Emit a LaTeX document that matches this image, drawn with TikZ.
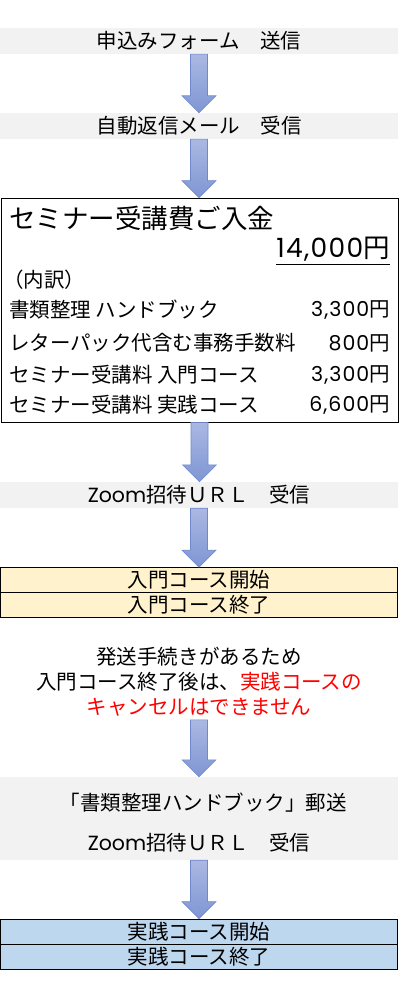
\documentclass[tikz,border=0pt]{standalone}
\usepackage{fontspec}
\setmainfont{Noto Sans CJK JP}
\newfontfamily\latinfont{Poppins}
\newfontfamily\amountfont{Poppins}[LetterSpace=5]
\usepackage{xcolor}
\usetikzlibrary{calc}
\definecolor{bandgray}{HTML}{F2F2F2}
\definecolor{introyellow}{HTML}{FFF2CC}
\definecolor{practiceblue}{HTML}{BDD7EE}
\definecolor{arrowtop}{HTML}{AAB8E2}
\definecolor{arrowbottom}{HTML}{7F96D4}
\definecolor{arrowline}{HTML}{6F89CF}
\definecolor{warnred}{HTML}{FF0000}
\newcommand{\yen}[1]{{\amountfont #1}円}
\tikzset{
  band/.style={fill=bandgray, minimum width=398pt, minimum height=26pt, inner sep=0pt, font=\fontsize{20.5}{25}\selectfont},
  coursebox/.style={draw=black, line width=0.8pt, minimum width=397pt, minimum height=25pt, inner sep=0pt, font=\fontsize{20.5}{25}\selectfont},
  item/.style={inner sep=0pt, font=\fontsize{20.5}{25}\selectfont},
  arrowbody/.style={top color=arrowtop, bottom color=arrowbottom, draw=arrowline, line width=0.6pt}
}
% block arrow from #1 down to #2
\newcommand{\flowarrow}[2]{%
\path[arrowbody] let \p1=(#1), \p2=(#2) in
  (\x1-8.5,\y1) -- (\x1+8.5,\y1) -- (\x1+8.5,\y2+17) -- (\x1+17,\y2+17)
  -- (\x1,\y2) -- (\x1-17,\y2+17) -- (\x1-8.5,\y2+17) -- cycle;}

\begin{document}
\begin{tikzpicture}[x=1pt,y=-1pt]
\useasboundingbox (0,0) rectangle (412,995);

\node[band] (form) at (199,41) {申込みフォーム　送信};
\node[band] (automail) at (199,126) {自動返信メール　受信};

\node[draw=black, line width=0.8pt, minimum width=397pt, minimum height=224pt, inner sep=0pt] (fee) at (199.5,310) {};
\node[item, anchor=west, font=\fontsize{26.5}{30}\selectfont] (title) at (9,218) {セミナー受講費ご入金};
\node[item, anchor=east, font=\fontsize{26.5}{30}\selectfont] (total) at (390,249) {\yen{14,000}};
\draw[line width=0.8pt] ([yshift=-3pt]total.south west) -- ([yshift=-3pt]total.south east);
\node[item, anchor=west] (breakdown) at (3,280) {（内訳）};
\node[item, anchor=west] (handbook) at (9,310) {書類整理 ハンドブック};
\node[item, anchor=east] (handbookfee) at (390,310) {\yen{3,300}};
\node[item, anchor=west] (letterpack) at (9,343) {レターパック代含む事務手数料};
\node[item, anchor=east] (letterpackfee) at (390,343) {\yen{800}};
\node[item, anchor=west] (intro) at (9,375) {セミナー受講料 入門コース};
\node[item, anchor=east] (introfee) at (390,375) {\yen{3,300}};
\node[item, anchor=west] (practice) at (9,405) {セミナー受講料 実践コース};
\node[item, anchor=east] (practicefee) at (390,405) {\yen{6,600}};

\node[band] (zoomurl) at (199,495) {{\latinfont Zoom}招待ＵＲＬ　受信};

\node[coursebox, fill=introyellow] (introstart) at (199,580) {入門コース開始};
\node[coursebox, fill=introyellow] (introend) at (199,605) {入門コース終了};

\node[item, align=center, text width=398pt] (notice) at (199,682) {発送手続きがあるため\\
入門コース終了後は、\textcolor{warnred}{実践コースの}\\
\textcolor{warnred}{キャンセルはできません}};

\node[band, minimum height=83pt] (shipping) at (199,818.5) {};
\node[item] (shiptext) at (203,803) {「書類整理ハンドブック」郵送};
\node[item] (zoomurltwo) at (199,843) {{\latinfont Zoom}招待ＵＲＬ　受信};

\node[coursebox, fill=practiceblue] (practicestart) at (199,931.5) {実践コース開始};
\node[coursebox, fill=practiceblue] (practiceend) at (199,956.5) {実践コース終了};

\flowarrow{form.south}{automail.north}
\flowarrow{automail.south}{fee.north}
\flowarrow{fee.south}{zoomurl.north}
\flowarrow{zoomurl.south}{introstart.north}
\flowarrow{$(notice.south)+(0,3)$}{shipping.north}
\flowarrow{shipping.south}{practicestart.north}

\end{tikzpicture}
\end{document}
